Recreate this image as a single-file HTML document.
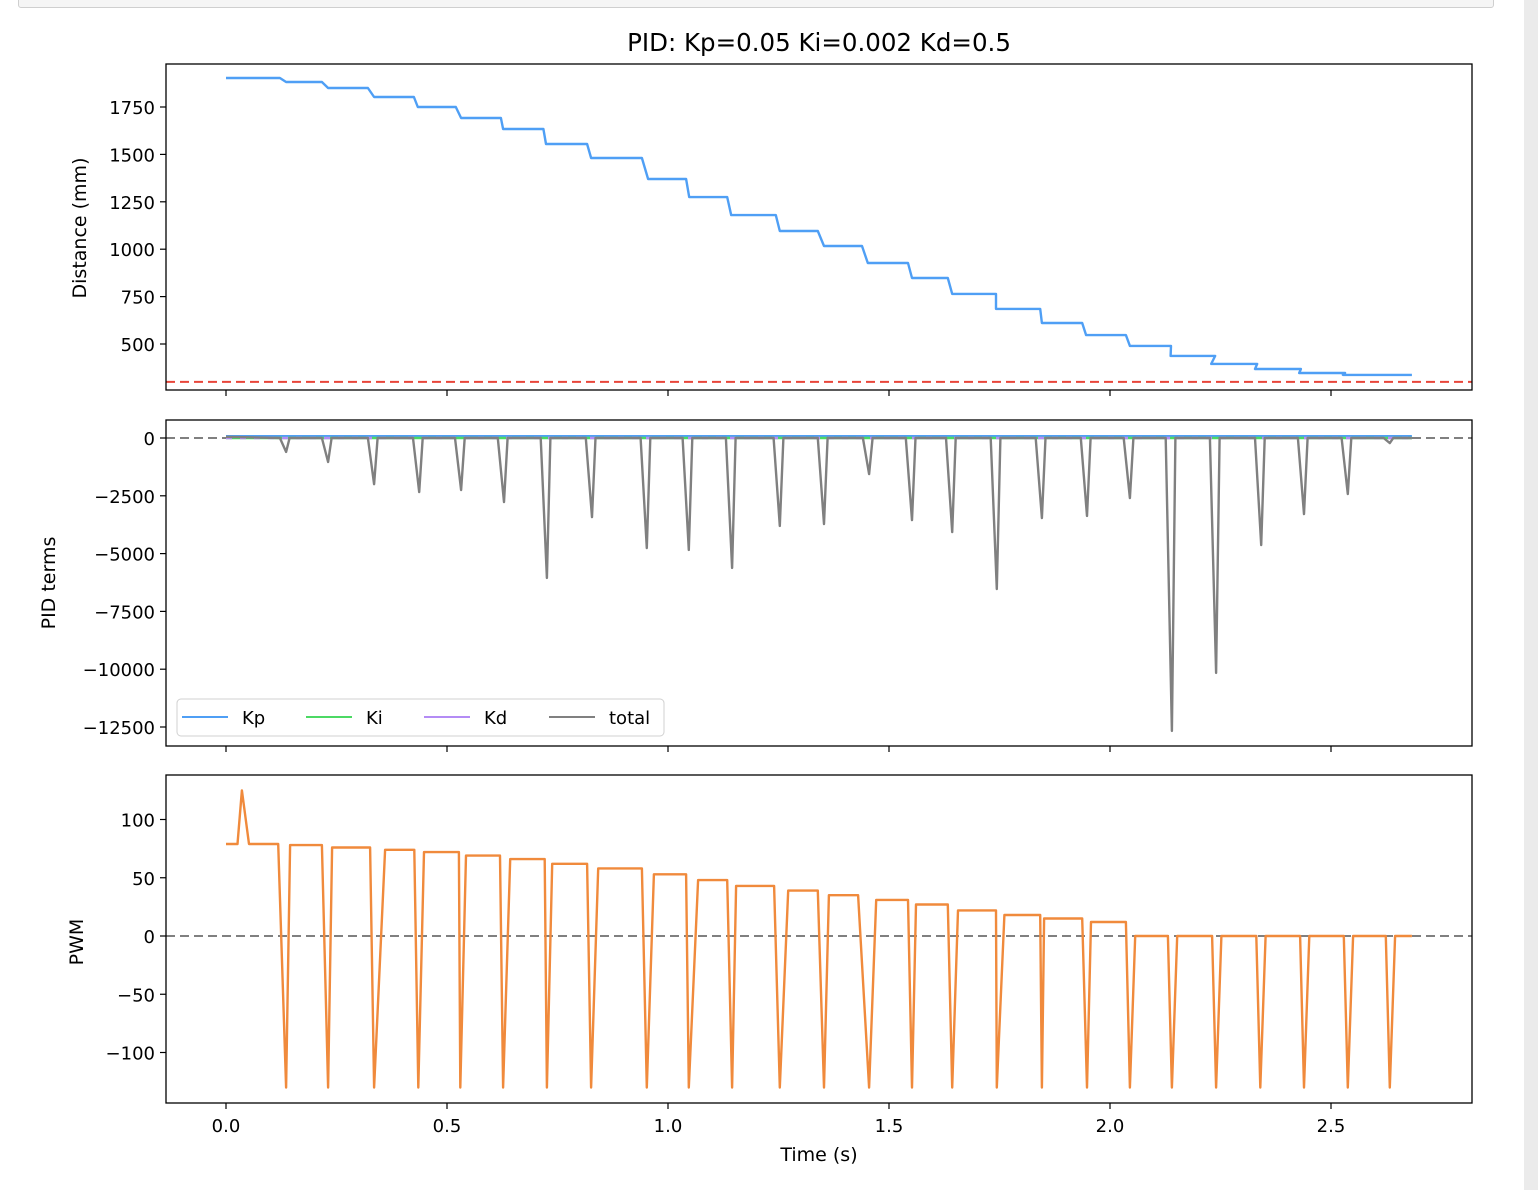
<!DOCTYPE html>
<html><head><meta charset="utf-8">
<style>
html,body{margin:0;padding:0;background:#fff;}
body{width:1538px;height:1190px;position:relative;overflow:hidden;font-family:"DejaVu Sans","Liberation Sans",sans-serif;}
svg text{font-family:"DejaVu Sans","Liberation Sans",sans-serif;fill:#000;}
</style></head>
<body>
<div style="position:absolute;left:18px;top:-6px;width:1474px;height:12px;background:#f5f5f5;border:1px solid #cfcfcf;border-radius:3px;"></div>
<div style="position:absolute;left:1524px;top:0;width:14px;height:1190px;background:#ebebeb;"></div>
<svg id="chart" width="1538" height="1190" style="position:absolute;left:0;top:0">
<text x="819" y="51" font-size="24.5" text-anchor="middle">PID: Kp=0.05 Ki=0.002 Kd=0.5</text>
</svg>
<script>
// ---- data ----
const distStart=[0.0,0.136,0.231,0.335,0.434,0.532,0.627,0.724,0.826,0.955,1.048,1.143,1.253,1.353,1.452,1.552,1.643,1.742,1.846,1.946,2.045,2.137,2.229,2.328,2.428,2.527];
const distEnd=[0.122,0.217,0.321,0.425,0.520,0.622,0.718,0.817,0.941,1.041,1.134,1.244,1.339,1.439,1.543,1.633,1.742,1.842,1.937,2.036,2.138,2.238,2.333,2.432,2.532,2.683];
const distValues=[1903,1882,1850,1803,1750,1692,1634,1555,1481,1370,1275,1180,1096,1017,927,848,764,685,611,547,490,437,395,368,347,337];
const distThreshold=300;
const spikeTimes=[0.136,0.231,0.335,0.437,0.532,0.629,0.726,0.828,0.952,1.047,1.145,1.253,1.353,1.455,1.552,1.643,1.744,1.846,1.948,2.045,2.140,2.240,2.342,2.439,2.538,2.633];
const spikeValues=[-600,-1040,-2000,-2340,-2250,-2770,-6050,-3420,-4760,-4840,-5620,-3800,-3720,-1560,-3550,-4070,-6530,-3460,-3370,-2600,-12670,-10160,-4630,-3290,-2420,-220];
const pidEnd=2.683;
const pwmStart=[0.0,0.145,0.240,0.360,0.448,0.543,0.643,0.738,0.842,0.968,1.068,1.154,1.272,1.364,1.471,1.561,1.656,1.761,1.851,1.957];
const pwmEnd=[0.118,0.217,0.326,0.426,0.527,0.620,0.721,0.817,0.941,1.041,1.134,1.240,1.339,1.430,1.543,1.633,1.742,1.842,1.937,2.036];
const pwmValues=[79,78,76,74,72,69,66,62,58,53,48,43,39,35,31,27,22,18,15,12];
const pwmSpikeT=0.036, pwmSpikeV=125;
const pwmDipTimes=[0.136,0.231,0.335,0.435,0.530,0.627,0.726,0.826,0.952,1.047,1.145,1.253,1.353,1.455,1.552,1.643,1.744,1.846,1.948,2.045,2.140,2.240,2.340,2.439,2.538,2.633];
const pwmDipValue=-130;
const pwmEndT=2.683;
const xTicks=[0.0,0.5,1.0,1.5,2.0,2.5];
const distTicks=[500,750,1000,1250,1500,1750];
const pidTicks=[0,-2500,-5000,-7500,-10000,-12500];
const pwmTicks=[100,50,0,-50,-100];
const legendLabels=["Kp","Ki","Kd","total"];
const legendColors=["#4f9ff5","#4cd964","#b48cf5","#808080"];

// ---- axes ----
const L=166,R=1472;
const X=t=>226+t*442;
const Y1=v=>107+(1750-v)*0.1896;
const Y2=v=>438-v*289/12500;
const Y3=v=>936-v*1.165;
const NS="http://www.w3.org/2000/svg";
const svg=document.getElementById('chart');
const LW=2.4;
function mk(tag,attrs,name){const e=document.createElementNS(NS,tag);for(const k in attrs)e.setAttribute(k,attrs[k]);


svg.appendChild(e);return e;}
function txt(x,y,s,anchor,name,size){const e=mk('text',{x:x,y:y,'font-size':size||18,'text-anchor':anchor},name);e.textContent=s;return e;}
function fmt(v){return v<0?'\u2212'+Math.abs(v):String(v);}
function poly(pts,stroke,w,name,dash){const a={points:pts.map(p=>p[0].toFixed(1)+','+p[1].toFixed(1)).join(' '),fill:'none',stroke:stroke,'stroke-width':w,'stroke-linejoin':'round'};if(dash)a['stroke-dasharray']=dash;return mk('polyline',a,name);}

const panels=[{top:64,bot:390,name:'distance'},{top:420,bot:746,name:'pid'},{top:775,bot:1103,name:'pwm'}];
panels.forEach(p=>{
  xTicks.forEach(t=>mk('line',{x1:X(t),x2:X(t),y1:p.bot,y2:p.bot+6,stroke:'#000','stroke-width':1.2},p.name+'-x-tick'));
});
xTicks.forEach(t=>txt(X(t),1132,t.toFixed(1),'middle','x-tick-label'));
txt(819,1161,'Time (s)','middle','x-axis-title',19);
distTicks.forEach(v=>{mk('line',{x1:L-6,x2:L,y1:Y1(v),y2:Y1(v),stroke:'#000','stroke-width':1.2},'distance-y-tick');txt(L-11,Y1(v)+7,fmt(v),'end','distance-y-tick-label');});
pidTicks.forEach(v=>{mk('line',{x1:L-6,x2:L,y1:Y2(v),y2:Y2(v),stroke:'#000','stroke-width':1.2},'pid-y-tick');txt(L-11,Y2(v)+7,fmt(v),'end','pid-y-tick-label');});
pwmTicks.forEach(v=>{mk('line',{x1:L-6,x2:L,y1:Y3(v),y2:Y3(v),stroke:'#000','stroke-width':1.2},'pwm-y-tick');txt(L-11,Y3(v)+7,fmt(v),'end','pwm-y-tick-label');});
mk('text',{x:86,y:228,'font-size':19,'text-anchor':'middle',transform:'rotate(-90 86 228)'},'distance-y-axis-title').textContent='Distance (mm)';
mk('text',{x:55,y:583,'font-size':19,'text-anchor':'middle',transform:'rotate(-90 55 583)'},'pid-y-axis-title').textContent='PID terms';
mk('text',{x:83,y:942,'font-size':19,'text-anchor':'middle',transform:'rotate(-90 83 942)'},'pwm-y-axis-title').textContent='PWM';

let dp=[];
distValues.forEach((v,i)=>{dp.push([X(distStart[i]),Y1(v)]);dp.push([X(distEnd[i]),Y1(v)]);});
poly(dp,'#4f9ff5',LW,'distance-line');
mk('line',{x1:L,x2:R,y1:Y1(distThreshold),y2:Y1(distThreshold),stroke:'#e8463a','stroke-width':2,'stroke-dasharray':'9,5'},'target-distance-line');

mk('line',{x1:L,x2:R,y1:Y2(0),y2:Y2(0),stroke:'#808080','stroke-width':2,'stroke-dasharray':'9,5'},'pid-zero-line');
poly([[X(0),Y2(80)],[X(pidEnd),Y2(80)]],'#4f9ff5',LW,'kp-line');
poly([[X(0),Y2(0)],[X(pidEnd),Y2(0)]],'#4cd964',LW,'ki-line');
poly([[X(0),Y2(0)],[X(pidEnd),Y2(0)]],'#b48cf5',LW,'kd-line','6,8');
let pp=[[X(0),Y2(50)]];
spikeTimes.forEach((t,i)=>{pp.push([X(t-0.014),Y2(0)]);pp.push([X(t),Y2(spikeValues[i])]);pp.push([X(t+0.008),Y2(0)]);});
pp.push([X(pidEnd),Y2(0)]);
poly(pp,'#808080',LW,'total-line');
mk('rect',{x:177,y:699,width:487,height:37,rx:4,fill:'#fff','fill-opacity':0.8,stroke:'#d0d0d0'},'legend');
const lx=[182,306,424,549];
legendLabels.forEach((s,i)=>{mk('line',{x1:lx[i],x2:lx[i]+46,y1:717,y2:717,stroke:legendColors[i],'stroke-width':2},'legend-swatch-'+s.toLowerCase());txt(lx[i]+60,724,s,'start','legend-label-'+s.toLowerCase());});

mk('line',{x1:L,x2:R,y1:Y3(0),y2:Y3(0),stroke:'#808080','stroke-width':2,'stroke-dasharray':'9,5'},'pwm-zero-line');
let wp=[[X(0),Y3(79)],[X(pwmSpikeT-0.01),Y3(79)],[X(pwmSpikeT),Y3(pwmSpikeV)],[X(pwmSpikeT+0.016),Y3(79)]];
pwmDipTimes.forEach((t,i)=>{
  const prev=i<pwmValues.length?pwmValues[i]:0;
  if(i<pwmValues.length){wp.push([X(pwmEnd[i]),Y3(prev)]);}else{wp.push([X(t-0.009),Y3(0)]);}
  wp.push([X(t),Y3(pwmDipValue)]);
  if(i+1<pwmValues.length){wp.push([X(pwmStart[i+1]),Y3(pwmValues[i+1])]);}else{wp.push([X(t+0.012),Y3(0)]);}
});
wp.push([X(pwmEndT),Y3(0)]);
poly(wp,'#f08a3c',LW,'pwm-line');

panels.forEach(p=>mk('rect',{x:L,y:p.top,width:R-L,height:p.bot-p.top,fill:'none',stroke:'#000','stroke-width':1.3},p.name+'-axes-frame'));
</script>
</body></html>
